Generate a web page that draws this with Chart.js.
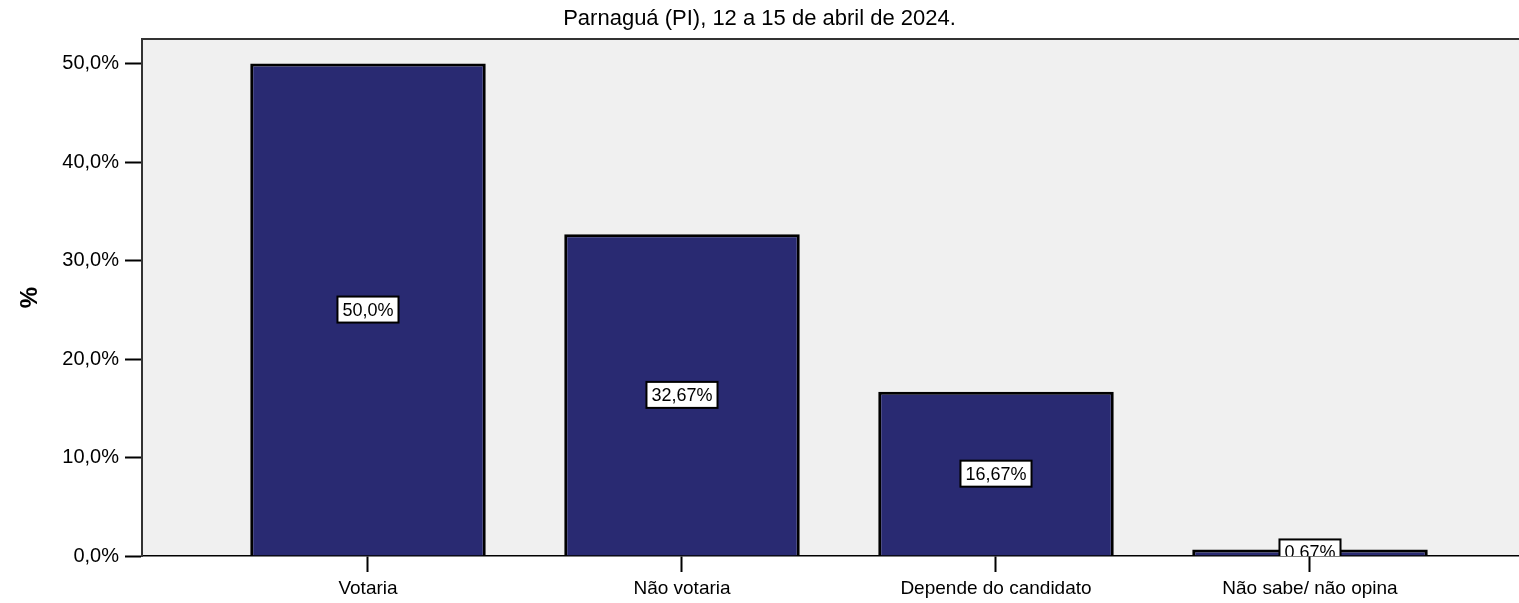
<!DOCTYPE html>
<html>
<head>
<meta charset="utf-8">
<script src="https://cdn.jsdelivr.net/npm/chart.js@4/dist/chart.umd.min.js"></script>
<style>
  html, body { margin: 0; padding: 0; background: #ffffff; }
  #wrap { width: 1519px; height: 603px; position: relative; }
</style>
</head>
<body>
<div id="wrap"><canvas id="c"></canvas></div>
<script>
const titleText = "Parnaguá (PI), 12 a 15 de abril de 2024.";
const categories = ["Votaria", "Não votaria", "Depende do candidato", "Não sabe/ não opina"];
const values = [50.0, 32.67, 16.67, 0.67];
const valueLabels = ["50,0%", "32,67%", "16,67%", "0,67%"];
const yTicks = [0, 10, 20, 30, 40, 50];
const yAxisTitle = "%";

const FONT = "Arial, 'Liberation Sans', sans-serif";

const bgPlugin = {
  id: 'bg',
  beforeDraw(chart) {
    const {ctx, chartArea: a} = chart;
    ctx.save();
    ctx.fillStyle = '#f0f0f0';
    ctx.fillRect(a.left, a.top, a.right - a.left, a.bottom - a.top);
    ctx.restore();
  },
  afterDraw(chart) {
    const {ctx, chartArea: a} = chart;
    ctx.save();
    ctx.strokeStyle = '#333333';
    ctx.lineWidth = 2;
    ctx.beginPath();
    ctx.moveTo(a.left, a.top);
    ctx.lineTo(a.right, a.top);
    ctx.stroke();
    ctx.restore();
  }
};

const labelPlugin = {
  id: 'boxLabels',
  afterDatasetsDraw(chart) {
    const {ctx, chartArea: a} = chart;
    const meta = chart.getDatasetMeta(0);
    ctx.save();
    ctx.beginPath();
    ctx.rect(a.left, a.top, a.right - a.left, a.bottom - a.top);
    ctx.clip();
    ctx.font = '18px ' + FONT;
    ctx.textAlign = 'center';
    ctx.textBaseline = 'middle';
    meta.data.forEach((el, i) => {
      const txt = valueLabels[i];
      const cx = el.x;
      const cy = (el.y + el.base) / 2;
      const w = ctx.measureText(txt).width + 10;
      const h = 26;
      ctx.fillStyle = '#ffffff';
      ctx.fillRect(cx - w / 2, cy - h / 2, w, h);
      ctx.strokeStyle = '#000000';
      ctx.lineWidth = 2;
      ctx.strokeRect(cx - w / 2, cy - h / 2, w, h);
      ctx.fillStyle = '#000000';
      ctx.fillText(txt, cx, cy + 1);
    });
    ctx.restore();
  }
};

new Chart(document.getElementById('c'), {
  type: 'bar',
  data: {
    datasets: [{
      data: categories.map((c, i) => ({x: i, y: values[i]})),
      backgroundColor: '#292a72',
      borderColor: '#000000',
      borderWidth: 3,
      barPercentage: 0.75,
      categoryPercentage: 1.0
    }]
  },
  options: {
    responsive: true,
    maintainAspectRatio: false,
    animation: false,
    layout: { padding: { top: 0, left: 0, right: 0, bottom: 0 } },
    plugins: {
      legend: { display: false },
      tooltip: { enabled: false },
      title: {
        display: true,
        text: titleText,
        color: '#000000',
        font: { family: FONT, size: 22, weight: 'normal' },
        padding: { top: 6, bottom: 6.6 }
      }
    },
    scales: {
      x: {
        type: 'linear',
        offset: false,
        min: -0.7197,
        max: 3.6656,
        afterBuildTicks(scale) { scale.ticks = categories.map((c, i) => ({value: i})); },
        afterFit(scale) { scale.height = 47; },
        ticks: {
          callback: (v) => categories[v],
          color: '#000000',
          font: { family: FONT, size: 19 },
          padding: 5,
          maxRotation: 0,
          autoSkip: false
        },
        grid: {
          offset: false,
          drawOnChartArea: false,
          drawTicks: true,
          tickLength: 16,
          tickWidth: 2,
          tickColor: '#000000'
        },
        border: { display: true, color: '#000000', width: 1.5 }
      },
      y: {
        min: 0,
        max: 52.5,
        afterBuildTicks(scale) { scale.ticks = yTicks.map(v => ({value: v})); },
        afterFit(scale) { scale.width = 142; },
        ticks: {
          callback: (v) => v.toFixed(1).replace('.', ',') + '%',
          color: '#000000',
          font: { family: FONT, size: 20 },
          padding: 6
        },
        grid: {
          drawOnChartArea: false,
          drawTicks: true,
          tickLength: 17,
          tickWidth: 2,
          tickColor: '#000000'
        },
        border: { display: true, color: '#333333', width: 2 },
        title: {
          display: true,
          text: yAxisTitle,
          color: '#000000',
          font: { family: FONT, size: 24, weight: 'bold' },
          padding: { top: 16, bottom: 0 }
        }
      }
    }
  },
  plugins: [bgPlugin, labelPlugin]
});
</script>
</body>
</html>
